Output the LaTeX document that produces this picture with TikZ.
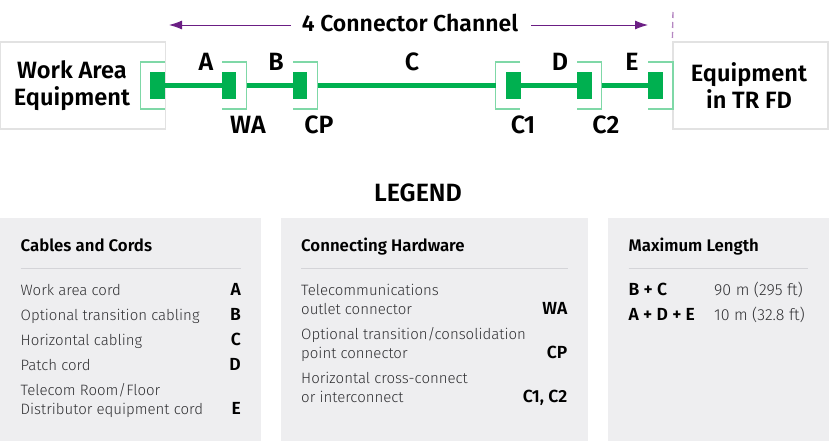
\documentclass[tikz,border=0pt]{standalone}
\usepackage{fontspec}
\setmainfont{Fira Sans}[UprightFont=* Light,BoldFont=* SemiBold]
\newfontfamily\headfont{Fira Sans SemiBold}
\usetikzlibrary{arrows.meta}
\definecolor{grn}{HTML}{00B050}
\definecolor{grnl}{HTML}{7FD8A7}
\definecolor{prp}{HTML}{6B1E84}
\definecolor{prpl}{HTML}{B587C2}
\definecolor{boxg}{HTML}{E2E2E2}
\definecolor{panel}{HTML}{EEEEF0}
\definecolor{rulec}{HTML}{D4D4D8}
\definecolor{txt}{HTML}{303033}
\tikzset{
 equip/.style={draw=boxg,line width=1.3pt,fill=white,minimum height=87pt,inner sep=0pt},
 equiptext/.style={align=center,font=\headfont\fontsize{23.6}{27.5}\selectfont,text=black,inner sep=0pt},
 blk/.style={fill=grn,draw=none,minimum width=14.5pt,minimum height=27pt,inner sep=0pt},
 brk/.style={draw=grnl,line width=1.1pt},
 cable/.style={draw=grn,line width=5pt},
 lbl/.style={font=\headfont\fontsize{25}{26}\selectfont,text=black,inner sep=0pt},
 ttl/.style={font=\headfont\fontsize{23}{26}\selectfont,text=black,inner sep=0pt},
 chan/.style={draw=prp,line width=0.9pt,-{Latex[length=13pt,width=9pt]}},
 pnl/.style={fill=panel,draw=none},
 rl/.style={draw=rulec,line width=0.7pt},
 phead/.style={font=\headfont\fontsize{16.8}{18}\selectfont,text=black,anchor=base west,inner sep=0pt},
 item/.style={font=\fontsize{15}{19}\selectfont,text=txt,anchor=base west,inner sep=0pt,align=left},
 val/.style={font=\fontsize{16}{19}\selectfont,text=txt,anchor=base west,inner sep=0pt},
 key/.style={font=\headfont\fontsize{17.5}{20}\selectfont,text=black,anchor=base east,inner sep=0pt},
 sumkey/.style={font=\headfont\fontsize{17.5}{20}\selectfont,text=black,anchor=base west,inner sep=0pt},
}
\begin{document}
\begin{tikzpicture}[x=1pt,y=-1pt]
\useasboundingbox (0,0) rectangle (829,441);
% equipment boxes
\node[equip,minimum width=165pt] (wae) at (83,85.5) {};
\node[equip,minimum width=155pt] (tr) at (750.5,85.5) {};
\node[equiptext] (waet) at (72,85.5) {Work Area\\Equipment};
\node[equiptext] (trt) at (749,85.5) {Equipment\\in TR FD};
% brackets
\draw[brk] (165,62) -- (140.5,62) -- (140.5,109) -- (165,109);
\draw[brk] (222,62) -- (246.5,62) -- (246.5,109) -- (222,109);
\draw[brk] (293,62) -- (317.5,62) -- (317.5,109) -- (293,109);
\draw[brk] (520,62) -- (495.5,62) -- (495.5,109) -- (520,109);
\draw[brk] (577,62) -- (601.5,62) -- (601.5,109) -- (577,109);
\draw[brk] (648,62) -- (673,62) -- (673,109) -- (648,109);
% connector blocks
\node[blk] (p1) at (157.5,85.5) {};
\node[blk] (wa) at (229,85.5) {};
\node[blk] (cp) at (300,85.5) {};
\node[blk] (c1) at (513.5,85.5) {};
\node[blk] (c2) at (584.5,85.5) {};
\node[blk] (p2) at (655.5,85.5) {};
\coordinate (bwa) at (246.5,85.5);
\coordinate (bcp) at (317.5,85.5);
\coordinate (bc1) at (495.5,85.5);
\coordinate (bc2) at (601.5,85.5);
% cables
\draw[cable] (p1.east) -- (wa.west);
\draw[cable] (bwa) -- (cp.west);
\draw[cable] (bcp) -- (bc1);
\draw[cable] (c1.east) -- (c2.west);
\draw[cable] (bc2) -- (p2.west);
% labels
\node[lbl] (la1) at (206,62) {A};
\node[lbl] (lb1) at (276,62) {B};
\node[lbl] (lc1) at (412,62) {C};
\node[lbl] (ld1) at (560,62) {D};
\node[lbl] (le1) at (632,62) {E};
\node[lbl] (lwa) at (248,124.5) {WA};
\node[lbl] (lcp) at (319,124.5) {CP};
\node[lbl] (lc1b) at (523,124.5) {C1};
\node[lbl] (lc2b) at (606,124.5) {C2};
% channel
\node[ttl] (chn) at (410,23) {4 Connector Channel};
\coordinate (la) at (169,25);
\coordinate (ra) at (648,25);
\coordinate (ls) at (291,25);
\coordinate (rs) at (531,25);
\draw[chan] (ls) -- (la);
\draw[chan] (rs) -- (ra);
\coordinate (dt) at (673,12);
\draw[draw=prpl,line width=1.4pt,dash pattern=on 6pt off 4pt] (dt) -- (tr.north west);
% legend
\node[ttl,font=\headfont\fontsize{25}{26}\selectfont] (lg) at (418,193) {LEGEND};
\fill[pnl] (0,218) rectangle (261,441);
\fill[pnl] (281,218) rectangle (588,441);
\fill[pnl] (608,218) rectangle (829,441);
% panel 1
\node[phead] at (20.5,251) {Cables and Cords};
\draw[rl] (20.5,268.5) -- (241,268.5);
\node[item] at (20.5,295.5) {Work area cord};
\node[item] at (20.5,320.5) {Optional transition cabling};
\node[item] at (20.5,345.5) {Horizontal cabling};
\node[item] at (20.5,370.5) {Patch cord};
\node[item] at (20.5,395.5) {Telecom Room/Floor};
\node[item] at (20.5,414.5) {Distributor equipment cord};
\node[key] at (241,295.5) {A};
\node[key] at (241,320.5) {B};
\node[key] at (241,345.5) {C};
\node[key] at (241,370.5) {D};
\node[key] at (241,414.5) {E};
% panel 2
\node[phead] at (301,251) {Connecting Hardware};
\draw[rl] (301,268.5) -- (568,268.5);
\node[item] at (301,295.5) {Telecommunications};
\node[item] at (301,314.5) {outlet connector};
\node[item] at (301,339.5) {Optional transition/consolidation};
\node[item] at (301,358.5) {point connector};
\node[item] at (301,383.5) {Horizontal cross-connect};
\node[item] at (301,402.5) {or interconnect};
\node[key] at (567.5,314.5) {WA};
\node[key] at (567.5,358.5) {CP};
\node[key] at (567.5,402.5) {C1, C2};
% panel 3
\node[phead] at (628.5,251) {Maximum Length};
\draw[rl] (628.5,268.5) -- (808,268.5);
\node[sumkey] at (628.5,295.5) {B + C};
\node[sumkey] at (628.5,320.5) {A + D + E};
\node[val] at (714,295.5) {90 m (295 ft)};
\node[val] at (714,320.5) {10 m (32.8 ft)};
\end{tikzpicture}
\end{document}
